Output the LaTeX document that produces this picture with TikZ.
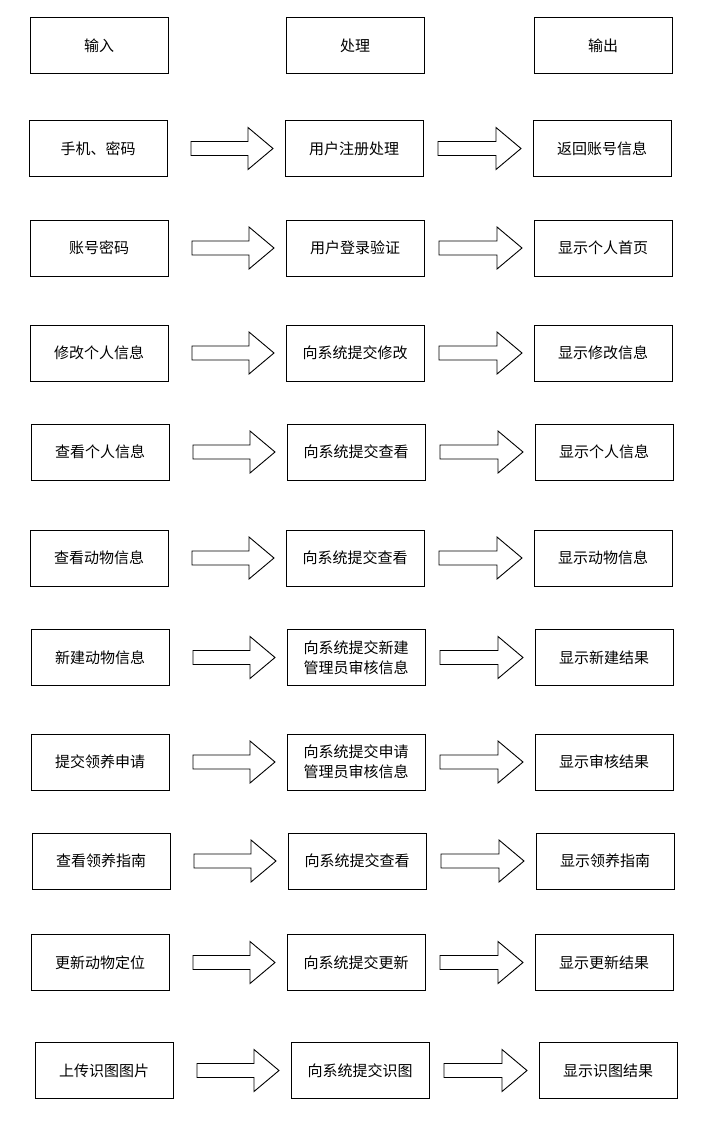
\documentclass[tikz,border=0pt]{standalone}
\usepackage{fontspec}
\newfontfamily\cjk{Noto Sans CJK SC}
\usetikzlibrary{calc}
\tikzset{
  flowbox/.style={draw, line width=0.9pt, minimum width=138pt, minimum height=56pt,
    inner sep=0pt, outer sep=0pt, align=center, font=\cjk\fontsize{15}{20}\selectfont},
  flowarrow/.style={draw, line width=0.9pt, fill=white, line join=miter}
}
% block arrow from box #1 to box #2, starting #3 right of #1
\newcommand{\blockarrow}[3]{%
  \draw[flowarrow] ($(#1.east)+(#3,-\shaft)$) -- ($(#2.west)+(-12-\headlen,-\shaft)$)
    -- ($(#2.west)+(-12-\headlen,-\head)$) -- ($(#2.west)+(-12,0)$)
    -- ($(#2.west)+(-12-\headlen,\head)$) -- ($(#2.west)+(-12-\headlen,\shaft)$)
    -- ($(#1.east)+(#3,\shaft)$) -- cycle;}

\begin{document}
\begin{tikzpicture}[x=1pt,y=-1pt]
  \def\shaft{7}
  \def\head{21}
  \def\headlen{25}
  \useasboundingbox (0,0) rectangle (709,1121);
  %The heading row:
  \node[flowbox] (in0) at (99,45.5) {输入};
  \node[flowbox] (do0) at (355,45.5) {处理};
  \node[flowbox] (out0) at (603,45.5) {输出};
  %The steps, each with its two arrows:
  \foreach \r/\yc/\dx/\a/\b/\c in {
      1/148.5/-1/{手机、密码}/{用户注册处理}/{返回账号信息},
      2/248/0/{账号密码}/{用户登录验证}/{显示个人首页},
      3/353/0/{修改个人信息}/{向系统提交修改}/{显示修改信息},
      4/452/1/{查看个人信息}/{向系统提交查看}/{显示个人信息},
      5/558/0/{查看动物信息}/{向系统提交查看}/{显示动物信息},
      6/657.5/1/{新建动物信息}/{向系统提交新建\\管理员审核信息}/{显示新建结果},
      7/762/1/{提交领养申请}/{向系统提交申请\\管理员审核信息}/{显示审核结果},
      8/861/2/{查看领养指南}/{向系统提交查看}/{显示领养指南},
      9/962.5/1/{更新动物定位}/{向系统提交更新}/{显示更新结果},
      10/1070.5/5/{上传识图图片}/{向系统提交识图}/{显示识图结果}}{
    \node[flowbox] (in\r) at (99+\dx,\yc) {\a};
    \node[flowbox] (do\r) at (355+\dx,\yc) {\b};
    \node[flowbox] (out\r) at (603+\dx,\yc) {\c};
    \blockarrow{in\r}{do\r}{24}
    \blockarrow{do\r}{out\r}{15}
  }
\end{tikzpicture}
\end{document}
